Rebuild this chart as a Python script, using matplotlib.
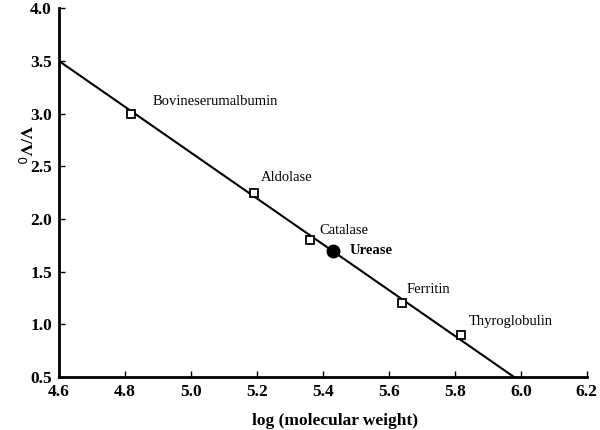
import matplotlib.pyplot as plt

# protein standards: log(MW) vs V/V0
names = ['Bovineserumalbumin', 'Aldolase', 'Catalase', 'Ferritin', 'Thyroglobulin']
log_mw = [4.82, 5.19, 5.36, 5.64, 5.82]
v_ratio = [3.0, 2.25, 1.8, 1.2, 0.9]
# label offsets in pixels from each marker
offs = [(21, 12), (7, 15), (10, 10), (5, 14), (7, 13)]

urease_x = 5.43
urease_y = 1.7

fit_x = [4.6, 5.98]
fit_y = [3.5, 0.5]

plt.rcParams['font.family'] = ['Liberation Serif', 'DejaVu Serif']

fig = plt.figure(figsize=(6, 4.3), dpi=100)
ax = fig.add_axes([0.098, 0.123, 0.88, 0.858])

ax.plot(fit_x, fit_y, color='black', lw=1.5, zorder=2)
ax.plot(log_mw, v_ratio, ls='none', marker='s', ms=6, mfc='white', mec='black', mew=1.3, zorder=3)
ax.plot([urease_x], [urease_y], ls='none', marker='o', ms=9, color='black', zorder=3)

for n, x, y, o in zip(names, log_mw, v_ratio, offs):
    ax.annotate(n, (x, y), xytext=o, textcoords='offset pixels', fontsize=10.5,
                ha='left', va='center')
ax.annotate('Urease', (urease_x, urease_y), xytext=(17, 0), textcoords='offset pixels',
            fontsize=10.5, fontweight='bold', ha='left', va='center')

ax.set_xlim(4.6, 6.2)
ax.set_ylim(0.5, 4.0)
ax.set_xticks([4.6, 4.8, 5.0, 5.2, 5.4, 5.6, 5.8, 6.0, 6.2])
ax.set_yticks([0.5, 1.0, 1.5, 2.0, 2.5, 3.0, 3.5, 4.0])
ax.xaxis.set_major_formatter(plt.FormatStrFormatter('%.1f'))
ax.yaxis.set_major_formatter(plt.FormatStrFormatter('%.1f'))
ax.tick_params(direction='in', length=4, width=1, labelsize=12.5, pad=5)
for lab in ax.get_xticklabels() + ax.get_yticklabels():
    lab.set_fontweight('bold')

for s in ['top', 'right']:
    ax.spines[s].set_visible(False)
for s in ['left', 'bottom']:
    ax.spines[s].set_linewidth(2)

ax.set_xlabel('log (molecular weight)', fontsize=12.5, fontweight='bold')
ax.set_ylabel('V/V$_0$', fontsize=12.5, fontweight='bold', rotation=270)
ax.xaxis.set_label_coords(0.523, -0.098)
ax.yaxis.set_label_coords(-0.083, 0.63)

fig.savefig('out.png', dpi=100)
